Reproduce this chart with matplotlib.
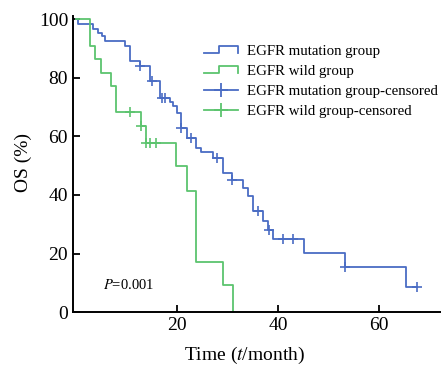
import matplotlib
matplotlib.use("Agg")
import matplotlib.pyplot as plt
from matplotlib.lines import Line2D
from matplotlib.legend_handler import HandlerBase

# Kaplan-Meier curves (time in months, OS in %)
mut_time = [0, 0.4, 3.4, 4.4, 5.0, 5.7, 9.6, 10.6, 12.6, 14.6, 16.6, 18.6, 19.2, 19.9,
            20.7, 21.9, 23.8, 24.8, 27.0, 29.0, 30.8, 33.1, 34.1, 35.0, 37.0, 38.0,
            39.0, 45.1, 53.2, 65.4, 67.5]
mut_os = [100, 98.3, 96.6, 95.4, 94.3, 92.6, 90.9, 85.7, 84.1, 78.9, 73.2, 71.7, 70.3, 68.0,
          62.9, 59.5, 56.0, 54.6, 52.6, 47.5, 45.2, 42.5, 39.7, 34.4, 31.2, 28.1,
          24.9, 20.1, 15.3, 8.5, 8.5]
mut_cens_time = [12.6, 15.0, 16.9, 17.6, 20.7, 22.8, 27.8, 30.8, 36.0, 38.1, 41.0, 43.0, 53.2, 67.4]
mut_cens_os = [84.1, 78.9, 73.2, 73.2, 62.9, 59.5, 52.6, 45.2, 34.4, 28.1, 24.9, 24.9, 15.3, 8.5]

wild_time = [0, 2.7, 3.7, 4.8, 6.8, 7.8, 12.8, 13.9, 19.7, 21.9, 23.8, 29.0, 31.0]
wild_os = [100, 90.9, 86.4, 81.8, 77.3, 68.2, 63.6, 57.8, 50.0, 41.5, 17.2, 9.2, 0]
wild_cens_time = [10.7, 12.8, 13.8, 14.7, 15.7]
wild_cens_os = [68.2, 63.6, 57.8, 57.8, 57.8]

blue = "#4a6cc4"
green = "#5cc46e"

plt.rcParams["font.family"] = ["Liberation Serif", "DejaVu Serif"]
plt.rcParams["mathtext.fontset"] = "stix"


class StepHandler(HandlerBase):
    # legend icon shaped like a small step
    def create_artists(self, legend, orig_handle, xd, yd, w, h, fontsize, trans):
        y0 = yd + h * 0.15
        y1 = yd + h * 0.85
        xs = [xd, xd + w * 0.45, xd + w * 0.45, xd + w, xd + w]
        ys = [y0, y0, y1, y1, y0]
        ln = Line2D(xs, ys, color=orig_handle.get_color(), lw=orig_handle.get_linewidth(),
                    transform=trans)
        return [ln]


fig = plt.figure(figsize=(4.41, 3.65), dpi=100)
ax = fig.add_axes([0.1655, 0.145, 0.834, 0.81])

l1, = ax.step(mut_time, mut_os, where="post", color=blue, lw=1.3)
l2, = ax.step(wild_time, wild_os, where="post", color=green, lw=1.3)
ax.plot(mut_cens_time, mut_cens_os, ls="none", marker="+", ms=7, mew=1.2, color=blue)
ax.plot(wild_cens_time, wild_cens_os, ls="none", marker="+", ms=7, mew=1.2, color=green)

h3 = Line2D([], [], color=blue, lw=1.3, marker="+", ms=10, mew=1.3)
h4 = Line2D([], [], color=green, lw=1.3, marker="+", ms=10, mew=1.3)

ax.legend([l1, l2, h3, h4],
          ["EGFR mutation group", "EGFR wild group",
           "EGFR mutation group-censored", "EGFR wild group-censored"],
          handler_map={l1: StepHandler(), l2: StepHandler()},
          loc="upper left", bbox_to_anchor=(0.355, 0.905), frameon=False,
          fontsize=10.7, handlelength=2.3, handletextpad=0.6, labelspacing=0.45,
          borderpad=0, borderaxespad=0)

ax.text(5.3, 9.2, r"$P$=0.001", fontsize=10.5, va="center", ha="left")

ax.set_xlim(-0.65, 72.2)
ax.set_ylim(0, 101)
ax.set_xticks([20, 40, 60])
ax.set_yticks([0, 20, 40, 60, 80, 100])
ax.tick_params(direction="in", length=5, width=1.3, labelsize=14, colors="black")
for s in ["top", "right"]:
    ax.spines[s].set_visible(False)
for s in ["left", "bottom"]:
    ax.spines[s].set_linewidth(1.4)

ax.set_xlabel(r"Time ($t$/month)", fontsize=14)
ax.set_ylabel("OS (%)", fontsize=14)
ax.xaxis.set_label_coords(0.465, -0.146)
ax.xaxis.label.set_va("center")
ax.yaxis.set_label_coords(-0.135, 0.505)
ax.yaxis.label.set_va("center")

fig.savefig("out.png", dpi=100)
